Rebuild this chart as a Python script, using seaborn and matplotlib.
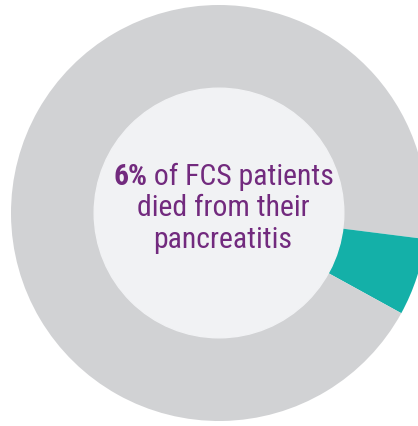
import matplotlib
matplotlib.use("Agg")
import matplotlib.pyplot as plt
import seaborn as sns

# ---- data ----
segment_labels = ["Other (before)", "Died from pancreatitis", "Other (after)"]
segment_values = [27.0, 6.0, 67.0]
segment_colors = ["#D1D2D4", "#14B0A8", "#D1D2D4"]
headline_bold = "6%"
headline_rest = " of FCS patients"
headline_lines = ["died from their", "pancreatitis"]

sns.set_theme(style="white")
plt.rcParams["font.family"] = ["Roboto Condensed", "DejaVu Sans"]

W, H = 418, 427
fig = plt.figure(figsize=(W / 100, H / 100), dpi=100)
fig.patch.set_facecolor("white")
R = 208
cx, cy = 219, H - 214
ax = fig.add_axes([(cx - R) / W, (cy - R) / H, 2 * R / W, 2 * R / H])
ax.pie(segment_values, colors=segment_colors, startangle=90, counterclock=False,
       radius=1.0, wedgeprops=dict(linewidth=0, antialiased=True))
inner = plt.Circle((0, 0), 0.6, color="#F1F2F4", zorder=5)
ax.add_patch(inner)
ax.set_xlim(-1, 1)
ax.set_ylim(-1, 1)
ax.set_aspect("equal")
ax.axis("off")

purple = "#722A7E"
fs = 21.4
renderer = fig.canvas.get_renderer()
tb = ax.text(0, 0, headline_bold, fontsize=fs, fontweight="bold", color=purple,
             ha="left", va="baseline", zorder=6)
tr = ax.text(0, 0, headline_rest, fontsize=fs, color=purple,
             ha="left", va="baseline", zorder=6)
wb = tb.get_window_extent(renderer).width
wr = tr.get_window_extent(renderer).width
total = wb + wr
px_to_data = 2.0 / (2 * R)
base1 = 185
y1 = (214 - base1) * px_to_data
x0 = (223.5 - cx - total / 2) * px_to_data
tb.set_position((x0, y1))
tr.set_position((x0 + wb * px_to_data, y1))
for i, line in enumerate(headline_lines):
    yy = (214 - (base1 + 31.5 * (i + 1))) * px_to_data
    ax.text((223 - cx) * px_to_data, yy, line, fontsize=fs, color=purple,
            ha="center", va="baseline", zorder=6)

fig.savefig("out.png", dpi=100, facecolor="white")
